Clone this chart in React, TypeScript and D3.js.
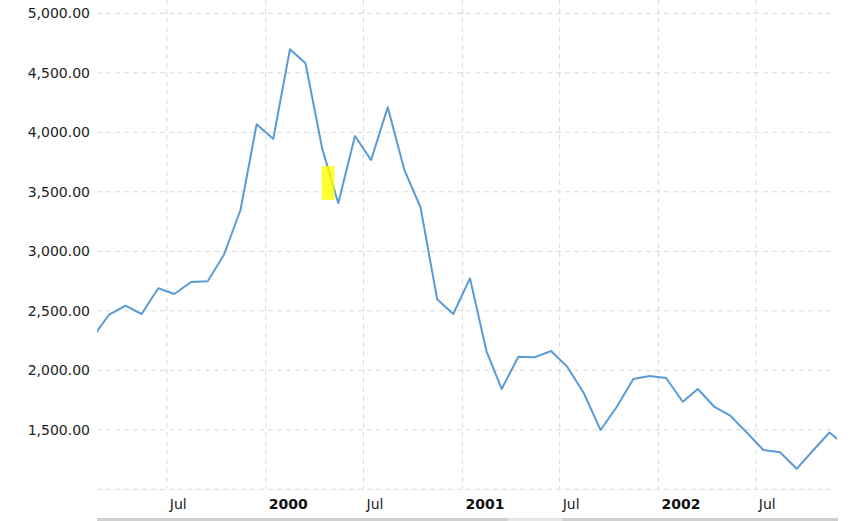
import React, { useEffect, useRef } from 'react';
import { select, scaleTime, scaleLinear, line, timeMonth, timeFormat, format } from 'd3';

// monthly closes, plotted mid-month
const months = [
  '1999-02', '1999-03', '1999-04', '1999-05', '1999-06', '1999-07', '1999-08', '1999-09', '1999-10', '1999-11', '1999-12',
  '2000-01', '2000-02', '2000-03', '2000-04', '2000-05', '2000-06', '2000-07', '2000-08', '2000-09', '2000-10', '2000-11', '2000-12',
  '2001-01', '2001-02', '2001-03', '2001-04', '2001-05', '2001-06', '2001-07', '2001-08', '2001-09', '2001-10', '2001-11', '2001-12',
  '2002-01', '2002-02', '2002-03', '2002-04', '2002-05', '2002-06', '2002-07', '2002-08', '2002-09', '2002-10', '2002-11', '2002-12',
];
const values = [
  2290, 2465, 2543, 2473, 2689, 2641, 2742, 2748, 2969, 3347, 4067,
  3944, 4697, 4580, 3865, 3403, 3969, 3767, 4210, 3683, 3370, 2597, 2473,
  2773, 2156, 1843, 2114, 2109, 2162, 2030, 1807, 1498, 1692, 1927, 1952,
  1935, 1736, 1843, 1692, 1616, 1473, 1330, 1311, 1172, 1324, 1477, 1364,
];
const yTicks = [1000, 1500, 2000, 2500, 3000, 3500, 4000, 4500, 5000];
const xDomain = ['1999-02-21', '2002-11-29'];
// yellow marker box: dates and values
const highlightDates = ['2000-04-14', '2000-05-08'];
const highlightValues = [3432, 3716];

const W = 852;
const H = 521;

const parse = (s: string) => {
  const [y, m, d] = s.split('-').map(Number);
  return new Date(y, m - 1, d || 15);
};

const App: React.FC = () => {
  const svgRef = useRef<SVGSVGElement>(null);

  useEffect(() => {
    if (!svgRef.current) return;
    const svg = select(svgRef.current);
    svg.selectAll('*').remove();

    const left = 97, right = 837, top = 13.3, bottom = 489.3;
    const x = scaleTime().domain(xDomain.map(parse)).range([left, right]);
    const y = scaleLinear().domain([1000, 5000]).range([bottom, top]);

    const font = '"DejaVu Sans", Verdana, sans-serif';

    svg.append('defs').append('clipPath').attr('id', 'plotClip')
      .append('rect').attr('x', left).attr('y', 0).attr('width', right - left).attr('height', bottom);

    // horizontal grid
    svg.append('g').selectAll('line').data(yTicks).enter().append('line')
      .attr('x1', left).attr('x2', right - 2)
      .attr('y1', d => y(d)).attr('y2', d => y(d))
      .attr('stroke', '#d9d9d9').attr('stroke-dasharray', '5,4');

    // vertical grid
    const xTicks = x.ticks(timeMonth.every(6)!);
    svg.append('g').selectAll('line').data(xTicks).enter().append('line')
      .attr('x1', d => x(d)).attr('x2', d => x(d))
      .attr('y1', 0).attr('y2', bottom)
      .attr('stroke', '#d9d9d9').attr('stroke-dasharray', '5,4');

    // y labels
    const fmt = format(',.2f');
    svg.append('g').selectAll('text').data(yTicks.filter(d => d > 1000)).enter().append('text')
      .attr('x', 90).attr('y', d => y(d)).attr('dy', '0.36em')
      .attr('text-anchor', 'end')
      .style('font-family', font).style('font-size', '14px').attr('fill', '#222')
      .text(d => fmt(d));

    // x labels
    const monthFmt = timeFormat('%b');
    const yearFmt = timeFormat('%Y');
    svg.append('g').selectAll('text').data(xTicks).enter().append('text')
      .attr('x', d => x(d) + 3).attr('y', 509)
      .style('font-family', font).style('font-size', '14px')
      .style('font-weight', d => (d.getMonth() === 0 ? 'bold' : 'normal'))
      .attr('fill', d => (d.getMonth() === 0 ? '#111' : '#222'))
      .text(d => (d.getMonth() === 0 ? yearFmt(d) : monthFmt(d)));

    // series
    const data = months.map((m, i) => ({ date: parse(m), value: values[i] }));
    const path = line<{ date: Date; value: number }>()
      .x(d => x(d.date))
      .y(d => y(d.value));
    svg.append('path')
      .datum(data)
      .attr('clip-path', 'url(#plotClip)')
      .attr('d', path)
      .attr('fill', 'none')
      .attr('stroke', '#5b9bd5')
      .attr('stroke-width', 2)
      .attr('stroke-linejoin', 'round');

    // highlight
    const hx = highlightDates.map(parse);
    svg.append('rect')
      .attr('x', x(hx[0])).attr('width', x(hx[1]) - x(hx[0]))
      .attr('y', y(highlightValues[1])).attr('height', y(highlightValues[0]) - y(highlightValues[1]))
      .attr('fill', '#ffff00').attr('opacity', 0.8);

    // navigator strip at the bottom
    svg.append('rect')
      .attr('x', left).attr('y', 518).attr('width', right + 1 - left).attr('height', 3)
      .attr('fill', '#cfcfcf');
    svg.append('rect')
      .attr('x', x(parse('2001-03-26'))).attr('y', 518)
      .attr('width', x(parse('2001-07-06')) - x(parse('2001-03-26'))).attr('height', 3)
      .attr('fill', '#e6e6e6');
  }, []);

  return (
    <svg
      ref={svgRef}
      width={W}
      height={H}
      style={{ position: 'absolute', left: 0, top: 0, background: '#fff' }}
    />
  );
};

export default App;
